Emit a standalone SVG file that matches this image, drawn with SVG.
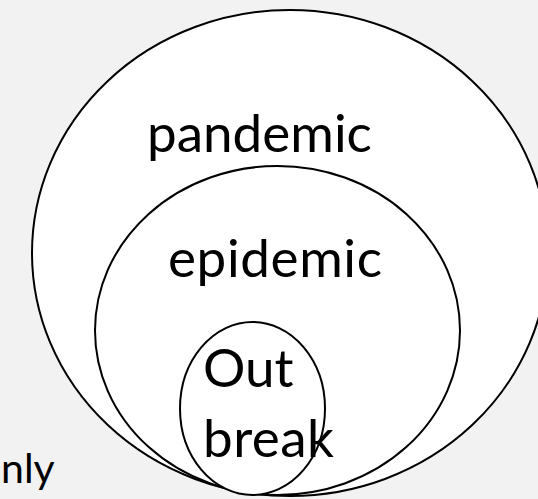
<svg xmlns="http://www.w3.org/2000/svg" width="538" height="499" viewBox="0 0 538 499">
  <style>
    .shape { fill: #ffffff; stroke: #000000; stroke-width: 2; }
    .label { font-family: Lato, "Open Sans", "Liberation Sans", sans-serif; font-size: 53px; fill: #000000; }
    .side { font-family: Lato, "Open Sans", "Liberation Sans", sans-serif; font-size: 41px; fill: #000000; }
  </style>
  <rect x="0" y="0" width="538" height="499" fill="#f2f2f2"/>
  <g id="pandemic">
    <ellipse class="shape" cx="290" cy="253" rx="258" ry="243"/>
    <text class="label" x="147" y="152">pandemic</text>
  </g>
  <g id="epidemic">
    <ellipse class="shape" cx="277.5" cy="330.5" rx="182.5" ry="164.5"/>
    <text class="label" x="168" y="277" textLength="214" lengthAdjust="spacing">epidemic</text>
  </g>
  <g id="outbreak">
    <ellipse class="shape" cx="252.5" cy="408.5" rx="72.5" ry="86.5"/>
    <text class="label" x="203" y="387">Out</text>
    <text class="label" x="203" y="457" textLength="131" lengthAdjust="spacing">break</text>
  </g>
  <g id="side-note">
    <text class="side" x="1" y="483">nly</text>
  </g>
  <g id="connectors"/>
</svg>
